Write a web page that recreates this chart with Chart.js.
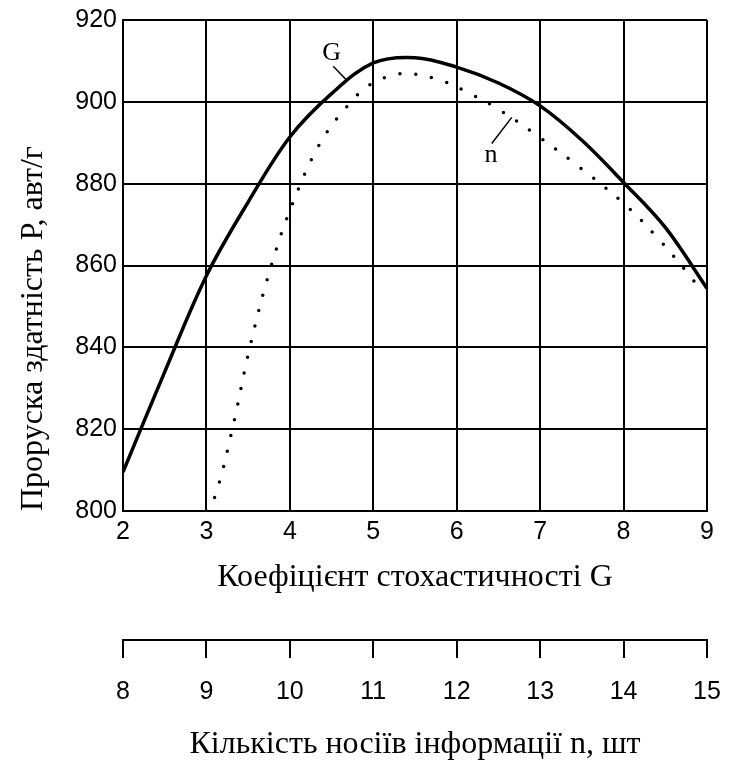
<!DOCTYPE html>
<html>
<head>
<meta charset="utf-8">
<title>Проруска здатність</title>
<script src="https://cdn.jsdelivr.net/npm/chart.js@4.4.1/dist/chart.umd.min.js"></script>
<style>
  html, body { margin: 0; padding: 0; background: #fff; }
</style>
</head>
<body>
<canvas id="chart" width="729" height="767"></canvas>
<script>
// ---------------------------------------------------------------------------
// DATA
// ---------------------------------------------------------------------------

// Curve G (solid)
const gX = [2.0, 2.5, 3.0, 3.5, 4.0, 4.5, 5.0, 5.5, 6.0, 6.5, 7.0, 7.5, 8.0, 8.5, 9.0];
const gY = [809.5, 834, 857.5, 875.5, 891.4, 902, 909.5, 910.8, 908.5, 904.6, 899, 890.6, 880.3, 869.3, 854.4];

// Curve n (dotted)
const nX = [3.0, 3.11, 3.31, 3.52, 3.77, 4.03, 4.35, 4.69, 4.97, 5.31, 5.5, 5.84, 6.17, 6.5, 6.96, 7.41, 8.0, 8.4, 8.77, 8.95];
const nY = [800, 804, 820, 840, 859.5, 875, 889.4, 899, 904.3, 906.8, 906.8, 905, 901.9, 898.2, 891.8, 885, 875.2, 866.9, 858.1, 853.2];

// Axis ticks
const gTicks = [2, 3, 4, 5, 6, 7, 8, 9];
const pTicks = [800, 820, 840, 860, 880, 900, 920];
const nTicks = [8, 9, 10, 11, 12, 13, 14, 15];

// Curve captions with their leader lines (data units)
const captions = [
  { text: 'G', x: 4.50, y: 912.0, from: [4.52, 908.7], to: [4.67, 905.5] },
  { text: 'n', x: 6.41, y: 886.9, from: [6.42, 889.8], to: [6.66, 896.2] }
];

// ---------------------------------------------------------------------------
// STYLE
// ---------------------------------------------------------------------------
const INK = '#000';
const tickFont = { family: 'Liberation Sans, Arial, sans-serif', size: 25 };
const titleFont = { family: 'Liberation Serif, Times New Roman, serif', size: 32 };

const toPoints = (xs, ys) => xs.map((x, i) => ({ x: x, y: ys[i] }));
const fixedTicks = list => scale => { scale.ticks = list.map(v => ({ value: v })); };

// keep the axis boxes at fixed sizes so the plot area matches the picture
const fixHeight = h => s => { s.height = h; s.paddingLeft = 0; s.paddingRight = 0; };
const fixWidth = w => s => { s.width = w; s.paddingTop = 0; s.paddingBottom = 0; };

// Draws the "G" / "n" captions and their small leader strokes
const captionPlugin = {
  id: 'captions',
  afterDatasetsDraw(chart) {
    const { ctx, scales: { x, y } } = chart;
    ctx.save();
    ctx.fillStyle = INK;
    ctx.strokeStyle = INK;
    ctx.lineWidth = 1.5;
    ctx.font = '26px "Liberation Serif", serif';
    ctx.textAlign = 'center';
    ctx.textBaseline = 'middle';
    captions.forEach(c => {
      ctx.fillText(c.text, x.getPixelForValue(c.x), y.getPixelForValue(c.y));
      ctx.beginPath();
      ctx.moveTo(x.getPixelForValue(c.from[0]), y.getPixelForValue(c.from[1]));
      ctx.lineTo(x.getPixelForValue(c.to[0]), y.getPixelForValue(c.to[1]));
      ctx.stroke();
    });
    ctx.restore();
  }
};

new Chart(document.getElementById('chart'), {
  type: 'line',
  data: {
    datasets: [
      {
        label: 'G',
        data: toPoints(gX, gY),
        borderColor: INK,
        borderWidth: 3.5,
        pointRadius: 0,
        tension: 0.35,
        fill: false
      },
      {
        label: 'n',
        data: toPoints(nX, nY),
        borderColor: INK,
        borderWidth: 3.5,
        borderDash: [0, 16],
        borderCapStyle: 'round',
        pointRadius: 0,
        tension: 0.4,
        fill: false
      }
    ]
  },
  options: {
    responsive: false,
    animation: false,
    layout: { padding: { left: 0, top: 20, right: 22, bottom: 0 } },
    plugins: {
      legend: { display: false },
      tooltip: { enabled: false }
    },
    scales: {
      x: {
        type: 'linear',
        position: 'bottom',
        weight: 0,
        min: 2,
        max: 9,
        afterBuildTicks: fixedTicks(gTicks),
        afterFit: fixHeight(129),
        grid: { color: INK, lineWidth: 2, drawTicks: false },
        border: { color: INK, width: 2 },
        ticks: { color: INK, font: tickFont, padding: 6, maxRotation: 0, autoSkip: false },
        title: {
          display: true,
          text: 'Коефіцієнт стохастичності G',
          color: INK,
          font: titleFont,
          padding: { top: 0, bottom: 43 }
        }
      },
      x2: {
        type: 'linear',
        position: 'bottom',
        weight: 1,
        min: 8,
        max: 15,
        afterBuildTicks: fixedTicks(nTicks),
        afterFit: fixHeight(127),
        grid: { drawOnChartArea: false, color: INK, lineWidth: 2, tickLength: 18 },
        border: { color: INK, width: 2 },
        ticks: { color: INK, font: tickFont, padding: 19, maxRotation: 0, autoSkip: false },
        title: {
          display: true,
          text: 'Кількість носіїв інформації n, шт',
          color: INK,
          font: titleFont,
          padding: { top: 0, bottom: 3 }
        }
      },
      y: {
        type: 'linear',
        position: 'left',
        min: 800,
        max: 920,
        afterBuildTicks: fixedTicks(pTicks),
        afterFit: fixWidth(123),
        grid: { color: INK, lineWidth: 2, drawTicks: false },
        border: { color: INK, width: 2 },
        ticks: { color: INK, font: tickFont, padding: 6 },
        title: {
          display: true,
          text: 'Проруска здатність Р, авт/г',
          color: INK,
          font: titleFont,
          align: 'start',
          padding: { top: 14, bottom: 0 }
        }
      }
    }
  },
  plugins: [captionPlugin]
});
</script>
</body>
</html>
